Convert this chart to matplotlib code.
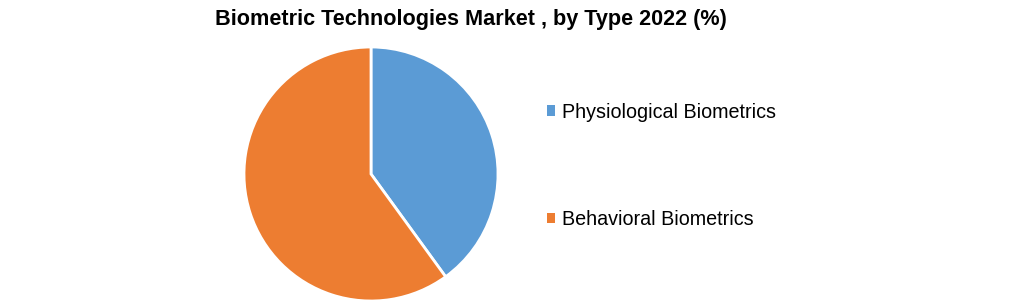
import matplotlib
matplotlib.use("Agg")
import matplotlib.pyplot as plt
from matplotlib.patches import Patch

plt.rcParams["font.family"] = ["Liberation Sans", "DejaVu Sans"]

# Data
labels = ["Physiological Biometrics", "Behavioral Biometrics"]
shares = [40, 60]
colors = ["#5B9BD5", "#ED7D31"]

W, H = 1021, 304
fig = plt.figure(figsize=(W / 100, H / 100), dpi=100)

# pie centred at (371, 174) px with radius ~127 px
cx, cy, r = 371, 174, 127
ax = fig.add_axes([(cx - r) / W, (H - cy - r) / H, 2 * r / W, 2 * r / H])
ax.pie(shares, colors=colors, startangle=90, counterclock=False,
       wedgeprops=dict(edgecolor="white", linewidth=2))
ax.set_xlim(-1, 1)
ax.set_ylim(-1, 1)
ax.set_aspect("equal")
ax.axis("off")

fig.text(471 / W, 1 - 20 / H, "Biometric Technologies Market , by Type 2022 (%)",
         ha="center", va="center", fontsize=15.6, fontweight="bold")

handles = [Patch(facecolor=c, edgecolor="none") for c in colors]
fig.legend(handles, labels, loc="center left", bbox_to_anchor=(529 / W, 1 - 166 / H),
           frameon=False, fontsize=14.2, handlelength=0.42, handleheight=0.42,
           handletextpad=0.35, labelspacing=4.5)

fig.savefig("out.png", dpi=100, facecolor="white")
